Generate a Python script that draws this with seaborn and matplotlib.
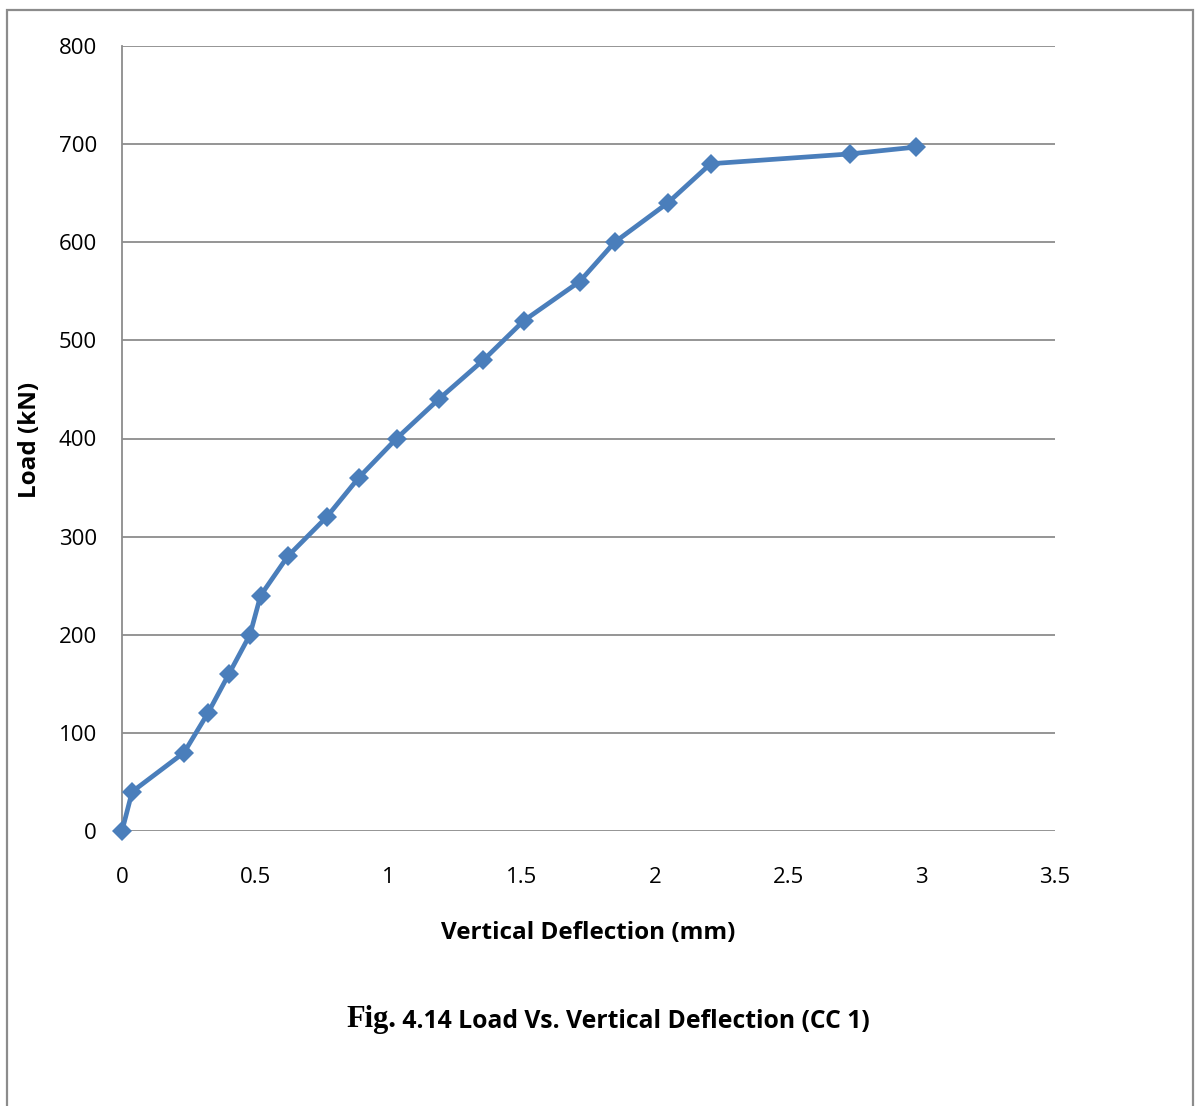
import matplotlib.pyplot as plt
import seaborn as sns
import pandas as pd
from matplotlib.patches import Rectangle

# Load vs vertical deflection readings (CC 1)
deflection = [0.0, 0.038, 0.233, 0.322, 0.401, 0.480, 0.520, 0.622, 0.768,
              0.888, 1.030, 1.188, 1.356, 1.507, 1.717, 1.848, 2.047, 2.208,
              2.730, 2.978]
load = [0, 40, 80, 120, 160, 200, 240, 280, 320, 360, 400, 440, 480, 520,
        560, 600, 640, 680, 690, 697]
x_ticks = [0, 0.5, 1, 1.5, 2, 2.5, 3, 3.5]
x_tick_labels = ["0", "0.5", "1", "1.5", "2", "2.5", "3", "3.5"]
y_ticks = [0, 100, 200, 300, 400, 500, 600, 700, 800]

df = pd.DataFrame({"deflection": deflection, "load": load})

sns.set_theme(style="white")
plt.rcParams["font.family"] = ["Open Sans", "DejaVu Sans"]
plt.rcParams["text.color"] = "black"
plt.rcParams["axes.labelcolor"] = "black"

W, H = 1195, 1106
fig = plt.figure(figsize=(W / 100, H / 100), dpi=100)
ax = fig.add_axes([122 / W, 1 - 831 / H, (1055 - 122) / W, (831 - 46) / H])

grid_col = "#8c8c8c"
line_col = "#4a7ebb"

sns.lineplot(data=df, x="deflection", y="load", ax=ax, color=line_col,
             linewidth=3.4, marker="D", markersize=10, markeredgewidth=0,
             sort=False, zorder=3)
for ln in ax.lines:
    ln.set_clip_on(False)

ax.set_xlim(0, 3.5)
ax.set_ylim(0, 800)
ax.set_xticks(x_ticks)
ax.set_xticklabels(x_tick_labels)
ax.set_yticks(y_ticks)
ax.yaxis.grid(True, color=grid_col, linewidth=1.3)
ax.xaxis.grid(False)
ax.set_axisbelow(True)
ax.tick_params(axis="both", length=0, labelsize=16, colors="black")
ax.tick_params(axis="x", pad=26)
ax.tick_params(axis="y", pad=18)

for side in ["top", "right", "bottom"]:
    ax.spines[side].set_visible(False)
ax.spines["left"].set_color(grid_col)
ax.spines["left"].set_linewidth(1.3)
ax.spines["left"].set_zorder(1)

ax.set_xlabel("Vertical Deflection (mm)", fontsize=17.5, fontweight="bold",
              labelpad=24, color="black")
ax.set_ylabel("Load (kN)", fontsize=17.5, fontweight="bold", color="black")
ax.yaxis.set_label_coords(-(122 - 42) / (1055 - 122), (831 - 440) / (831 - 46))

# Caption below the chart
fig_txt = fig.text(346 / W, 1 - 1027 / H, "Fig.", fontsize=22,
                   fontweight="bold", family=["Liberation Serif"],
                   ha="left", va="baseline", color="black")
ax.annotate(" 4.14 Load Vs. Vertical Deflection (CC 1)", xy=(1, 0),
            xycoords=fig_txt, fontsize=17.8, fontweight="bold",
            ha="left", va="bottom", annotation_clip=False, color="black")

# Outer frame
frame = Rectangle((7 / W, -0.05), (1193 - 7) / W, 1 - 10 / H + 0.05,
                  transform=fig.transFigure, fill=False,
                  edgecolor=grid_col, linewidth=1.6)
fig.patches.append(frame)

fig.savefig("out.png", dpi=100)
plt.close(fig)
